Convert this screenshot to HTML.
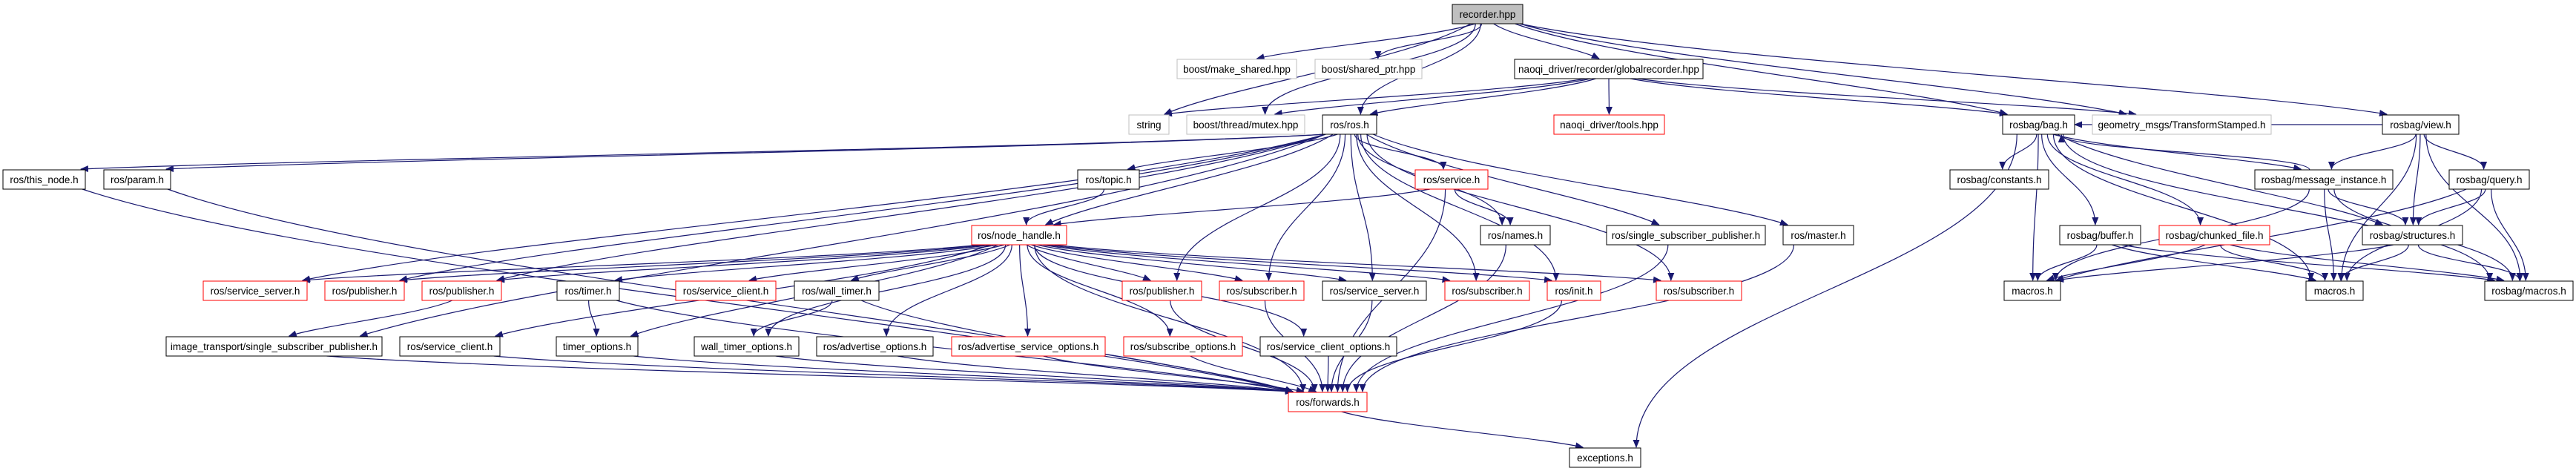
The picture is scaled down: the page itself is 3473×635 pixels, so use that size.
<!DOCTYPE html>
<html><head><meta charset="utf-8"><style>
html,body{margin:0;padding:0;background:#fff;}
svg{display:block;}
text{font-family:"Liberation Sans",sans-serif;font-size:13.5px;fill:#000;}
</style></head><body>
<svg id="g" width="3473" height="635" xmlns="http://www.w3.org/2000/svg">
<defs><marker id="a" markerWidth="11" markerHeight="9" refX="10" refY="4.5" orient="auto" markerUnits="userSpaceOnUse"><path d="M0,0 L11,4.5 L0,9 z" fill="#191970"/></marker></defs>
<g id="edges" fill="none" stroke="#191970" stroke-width="1.2"></g>
<g id="nodes">
<rect x="1958" y="6" width="95" height="26" fill="#bfbfbf" stroke="#000"/><text x="2005.5" y="24" text-anchor="middle">recorder.hpp</text>
<rect x="1587" y="80" width="161" height="26" fill="#fff" stroke="#bfbfbf"/><text x="1667.5" y="98" text-anchor="middle">boost/make_shared.hpp</text>
<rect x="1773" y="80" width="144" height="26" fill="#fff" stroke="#bfbfbf"/><text x="1845" y="98" text-anchor="middle">boost/shared_ptr.hpp</text>
<rect x="2042" y="80" width="254" height="26" fill="#fff" stroke="#000"/><text x="2169" y="98" text-anchor="middle">naoqi_driver/recorder/globalrecorder.hpp</text>
<rect x="1522" y="155" width="54" height="26" fill="#fff" stroke="#bfbfbf"/><text x="1549" y="173" text-anchor="middle">string</text>
<rect x="1600" y="155" width="159" height="26" fill="#fff" stroke="#bfbfbf"/><text x="1679.5" y="173" text-anchor="middle">boost/thread/mutex.hpp</text>
<rect x="1783" y="155" width="73" height="26" fill="#fff" stroke="#000"/><text x="1819.5" y="173" text-anchor="middle">ros/ros.h</text>
<rect x="2095" y="155" width="149" height="26" fill="#fff" stroke="#ff0000"/><text x="2169.5" y="173" text-anchor="middle">naoqi_driver/tools.hpp</text>
<rect x="2700" y="155" width="97" height="26" fill="#fff" stroke="#000"/><text x="2748.5" y="173" text-anchor="middle">rosbag/bag.h</text>
<rect x="2821" y="155" width="241" height="26" fill="#fff" stroke="#bfbfbf"/><text x="2941.5" y="173" text-anchor="middle">geometry_msgs/TransformStamped.h</text>
<rect x="3212" y="155" width="103" height="26" fill="#fff" stroke="#000"/><text x="3263.5" y="173" text-anchor="middle">rosbag/view.h</text>
<rect x="4" y="229" width="111" height="26" fill="#fff" stroke="#000"/><text x="59.5" y="247" text-anchor="middle">ros/this_node.h</text>
<rect x="140" y="229" width="90" height="26" fill="#fff" stroke="#000"/><text x="185" y="247" text-anchor="middle">ros/param.h</text>
<rect x="1453" y="229" width="83" height="26" fill="#fff" stroke="#000"/><text x="1494.5" y="247" text-anchor="middle">ros/topic.h</text>
<rect x="1908" y="229" width="98" height="26" fill="#fff" stroke="#ff0000"/><text x="1957" y="247" text-anchor="middle">ros/service.h</text>
<rect x="2629" y="229" width="133" height="26" fill="#fff" stroke="#000"/><text x="2695.5" y="247" text-anchor="middle">rosbag/constants.h</text>
<rect x="3040" y="229" width="186" height="26" fill="#fff" stroke="#000"/><text x="3133" y="247" text-anchor="middle">rosbag/message_instance.h</text>
<rect x="3302" y="229" width="108" height="26" fill="#fff" stroke="#000"/><text x="3356" y="247" text-anchor="middle">rosbag/query.h</text>
<rect x="1310" y="304" width="128" height="26" fill="#fff" stroke="#ff0000"/><text x="1374" y="322" text-anchor="middle">ros/node_handle.h</text>
<rect x="1996" y="304" width="94" height="26" fill="#fff" stroke="#000"/><text x="2043" y="322" text-anchor="middle">ros/names.h</text>
<rect x="2166" y="304" width="214" height="26" fill="#fff" stroke="#000"/><text x="2273" y="322" text-anchor="middle">ros/single_subscriber_publisher.h</text>
<rect x="2404" y="304" width="95" height="26" fill="#fff" stroke="#000"/><text x="2451.5" y="322" text-anchor="middle">ros/master.h</text>
<rect x="2777" y="304" width="109" height="26" fill="#fff" stroke="#000"/><text x="2831.5" y="322" text-anchor="middle">rosbag/buffer.h</text>
<rect x="2911" y="304" width="149" height="26" fill="#fff" stroke="#ff0000"/><text x="2985.5" y="322" text-anchor="middle">rosbag/chunked_file.h</text>
<rect x="3185" y="304" width="135" height="26" fill="#fff" stroke="#000"/><text x="3252.5" y="322" text-anchor="middle">rosbag/structures.h</text>
<rect x="274" y="379" width="140" height="26" fill="#fff" stroke="#ff0000"/><text x="344" y="397" text-anchor="middle">ros/service_server.h</text>
<rect x="438" y="379" width="107" height="26" fill="#fff" stroke="#ff0000"/><text x="491.5" y="397" text-anchor="middle">ros/publisher.h</text>
<rect x="569" y="379" width="107" height="26" fill="#fff" stroke="#ff0000"/><text x="622.5" y="397" text-anchor="middle">ros/publisher.h</text>
<rect x="751" y="379" width="84" height="26" fill="#fff" stroke="#000"/><text x="793" y="397" text-anchor="middle">ros/timer.h</text>
<rect x="911" y="379" width="135" height="26" fill="#fff" stroke="#ff0000"/><text x="978.5" y="397" text-anchor="middle">ros/service_client.h</text>
<rect x="1071" y="379" width="114" height="26" fill="#fff" stroke="#000"/><text x="1128" y="397" text-anchor="middle">ros/wall_timer.h</text>
<rect x="1513" y="379" width="107" height="26" fill="#fff" stroke="#ff0000"/><text x="1566.5" y="397" text-anchor="middle">ros/publisher.h</text>
<rect x="1644" y="379" width="114" height="26" fill="#fff" stroke="#ff0000"/><text x="1701" y="397" text-anchor="middle">ros/subscriber.h</text>
<rect x="1783" y="379" width="140" height="26" fill="#fff" stroke="#000"/><text x="1853" y="397" text-anchor="middle">ros/service_server.h</text>
<rect x="1948" y="379" width="114" height="26" fill="#fff" stroke="#ff0000"/><text x="2005" y="397" text-anchor="middle">ros/subscriber.h</text>
<rect x="2086" y="379" width="72" height="26" fill="#fff" stroke="#ff0000"/><text x="2122" y="397" text-anchor="middle">ros/init.h</text>
<rect x="2233" y="379" width="115" height="26" fill="#fff" stroke="#ff0000"/><text x="2290.5" y="397" text-anchor="middle">ros/subscriber.h</text>
<rect x="2702" y="379" width="76" height="26" fill="#fff" stroke="#000"/><text x="2740" y="397" text-anchor="middle">macros.h</text>
<rect x="3109" y="379" width="77" height="26" fill="#fff" stroke="#000"/><text x="3147.5" y="397" text-anchor="middle">macros.h</text>
<rect x="3350" y="379" width="119" height="26" fill="#fff" stroke="#000"/><text x="3409.5" y="397" text-anchor="middle">rosbag/macros.h</text>
<rect x="224" y="454" width="291" height="26" fill="#fff" stroke="#000"/><text x="369.5" y="472" text-anchor="middle">image_transport/single_subscriber_publisher.h</text>
<rect x="539" y="454" width="135" height="26" fill="#fff" stroke="#000"/><text x="606.5" y="472" text-anchor="middle">ros/service_client.h</text>
<rect x="750" y="454" width="110" height="26" fill="#fff" stroke="#000"/><text x="805" y="472" text-anchor="middle">timer_options.h</text>
<rect x="936" y="454" width="141" height="26" fill="#fff" stroke="#000"/><text x="1006.5" y="472" text-anchor="middle">wall_timer_options.h</text>
<rect x="1101" y="454" width="157" height="26" fill="#fff" stroke="#000"/><text x="1179.5" y="472" text-anchor="middle">ros/advertise_options.h</text>
<rect x="1283" y="454" width="207" height="26" fill="#fff" stroke="#ff0000"/><text x="1386.5" y="472" text-anchor="middle">ros/advertise_service_options.h</text>
<rect x="1515" y="454" width="160" height="26" fill="#fff" stroke="#ff0000"/><text x="1595" y="472" text-anchor="middle">ros/subscribe_options.h</text>
<rect x="1699" y="454" width="184" height="26" fill="#fff" stroke="#000"/><text x="1791" y="472" text-anchor="middle">ros/service_client_options.h</text>
<rect x="1737" y="529" width="106" height="26" fill="#fff" stroke="#ff0000"/><text x="1790" y="547" text-anchor="middle">ros/forwards.h</text>
<rect x="2116" y="604" width="96" height="26" fill="#fff" stroke="#000"/><text x="2164" y="622" text-anchor="middle">exceptions.h</text>
</g>
</svg>
<script>
(function(){
var R={};
var rs=document.querySelectorAll('#nodes rect');
var keys=['rec','mks','shp','glob','str','mtx','ros','tools','bag','geo','view','thisn','param','topic','srv','const','msgi','query','nh','names','ssp','master','buf','chunk','struct','ss1','pub1','pub2','timer','sc1','wt','pub3','sub1','ss2','sub2','init','sub3','mac1','mac2','rmac','itsp','sc2','topt','wtopt','advo','adso','subo','sco','fwd','exc'];
for(var i=0;i<rs.length;i++){var r=rs[i];R[keys[i]]={x:+r.getAttribute('x'),y:+r.getAttribute('y'),w:+r.getAttribute('width'),h:26};}
var E=[['rec','str'],['rec','mks'],['rec','shp'],['rec','glob'],['rec','mtx'],['rec','ros'],['rec','bag'],['rec','geo'],['rec','view'],
['glob','str'],['glob','mtx'],['glob','ros'],['glob','tools'],['glob','bag'],['glob','geo'],
['ros','thisn'],['ros','param'],['ros','topic'],['ros','nh'],['ros','srv'],['ros','names'],['ros','ssp'],['ros','master'],['ros','ss1'],['ros','pub1'],['ros','pub2'],['ros','itsp'],['ros','pub3'],['ros','sub1'],['ros','ss2'],['ros','sub2'],['ros','init'],['ros','sub3'],
['srv','nh'],['srv','names'],['srv','fwd'],['topic','nh'],
['nh','ss1'],['nh','pub1'],['nh','pub2'],['nh','timer'],['nh','sc1'],['nh','wt'],['nh','topt'],['nh','wtopt'],['nh','advo'],['nh','adso'],['nh','subo'],['nh','sco'],['nh','pub3'],['nh','sub1'],['nh','ss2'],['nh','sub2'],['nh','init'],['nh','sub3'],['nh','sc2'],['nh','fwd'],
['pub2','itsp'],['timer','topt'],['timer','fwd'],['wt','wtopt'],['wt','fwd'],
['thisn','fwd'],['param','fwd'],['sc2','fwd'],['topt','fwd'],['wtopt','fwd'],['advo','fwd'],['adso','fwd'],['subo','fwd'],['sco','fwd'],['pub3','fwd'],['sub1','fwd'],['ss2','fwd'],['init','fwd'],['names','fwd'],['ssp','fwd'],['master','fwd'],['itsp','fwd'],
['fwd','exc'],['bag','exc'],
['bag','const'],['bag','mac1'],['bag','buf'],['bag','chunk'],['bag','msgi'],['bag','struct'],['bag','mac2'],['bag','rmac'],
['msgi','bag'],['msgi','mac2'],['msgi','struct'],['msgi','rmac'],['msgi','mac1'],
['view','bag'],['view','msgi'],['view','struct'],['view','query'],['view','rmac'],['view','mac2'],
['query','struct'],['query','mac2'],['query','rmac'],['query','mac1'],
['buf','mac1'],['buf','rmac'],['buf','mac2'],['chunk','mac1'],['chunk','mac2'],['chunk','rmac'],
['struct','mac2'],['struct','rmac'],['struct','mac1']];
var g=document.getElementById('edges'),ns='http://www.w3.org/2000/svg';
E.forEach(function(e){var s=R[e[0]],t=R[e[1]];var d;
 var scx=s.x+s.w/2,tcx=t.x+t.w/2;
 var sx=Math.max(s.x+4,Math.min(s.x+s.w-4,scx+(tcx-scx)*0.05));
 var tx=Math.max(t.x+6,Math.min(t.x+t.w-6,tcx+(scx-tcx)*0.08));
 if(t.y>s.y){var sy=s.y+s.h,ty=t.y-1;var dy=ty-sy;
  if(Math.abs(tx-sx)>3*dy){
   d='M'+sx+','+sy+' C'+(sx+(tx-sx)*0.2)+','+(sy+dy*0.4)+' '+(sx+(tx-sx)*0.8)+','+(ty-dy*0.3)+' '+tx+','+ty;
  } else d='M'+sx+','+sy+' C'+sx+','+(sy+dy*0.45)+' '+tx+','+(ty-dy*0.45)+' '+tx+','+ty;}
 else if(t.y<s.y){var sy2=s.y,ty2=t.y+t.h+1;var dy2=sy2-ty2;d='M'+sx+','+sy2+' C'+sx+','+(sy2-dy2*0.45)+' '+tx+','+(ty2+dy2*0.45)+' '+tx+','+ty2;}
 else {var y=s.y+13;d='M'+(tcx>scx?s.x+s.w:s.x)+','+y+' L'+(tcx>scx?t.x:t.x+t.w)+','+y;}
 var p=document.createElementNS(ns,'path');p.setAttribute('d',d);p.setAttribute('marker-end','url(#a)');g.appendChild(p);});
})();
</script>
</body></html>
